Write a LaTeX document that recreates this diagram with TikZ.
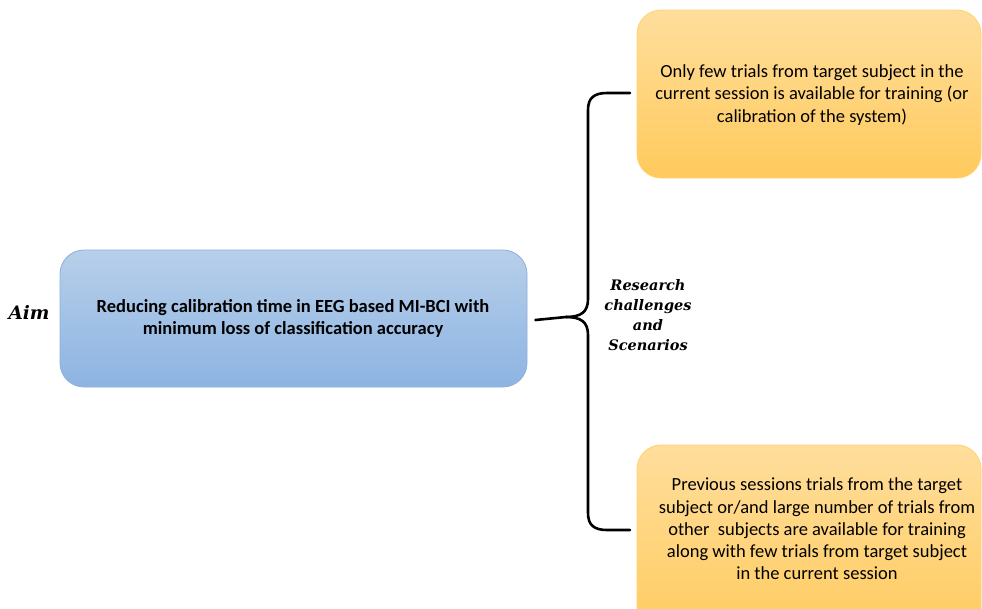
\documentclass[tikz,border=0pt]{standalone}
\usepackage{fontspec}
\setmainfont{Carlito}
\usetikzlibrary{calc}
\definecolor{aimtop}{HTML}{B7CFEA}
\definecolor{aimbot}{HTML}{8DB4E2}
\definecolor{aimedge}{HTML}{8FAEDB}
\definecolor{scntop}{HTML}{FFDE9C}
\definecolor{scnbot}{HTML}{FFCA5C}
\definecolor{scnedge}{HTML}{FFD36E}
\newfontfamily\labelfont{DejaVu Serif}
\tikzset{
  aimbox/.style={draw=aimedge, line width=0.8pt, rounded corners=24pt,
    top color=aimtop, bottom color=aimbot, inner sep=0pt},
  scnbox/.style={draw=scnedge, line width=0.8pt, rounded corners=24pt,
    top color=scntop, bottom color=scnbot, inner sep=0pt},
  boxtext/.style={align=center, inner sep=0pt, font=\fontsize{18.5}{22.3}\selectfont},
  sidelabel/.style={align=center, font=\labelfont\fontsize{14.5}{20}\selectfont\bfseries\itshape},
  bracket/.style={line width=2.6pt, line cap=round, line join=round}
}
\begin{document}
\begin{tikzpicture}[x=1pt,y=-1pt]
  \useasboundingbox (0,0) rectangle (982,608);
  \clip (0,0) rectangle (982,608);

  % main aim box
  \node[aimbox, minimum width=467pt, minimum height=137pt] (aim) at (293.5,318.5) {};
  \node[boxtext, font=\fontsize{18.5}{22}\selectfont\bfseries] (aimtext) at (293,318)
    {Reducing calibration time in EEG based MI-BCI with\\minimum loss of classification accuracy};
  \node[font=\labelfont\fontsize{18.5}{22}\selectfont\bfseries\itshape] (aimlabel) at (29,312) {Aim};

  % scenario boxes
  \node[scnbox, minimum width=344pt, minimum height=168pt] (s1) at (809,94) {};
  \node[boxtext] (s1text) at (812,95)
    {Only few trials from target subject in the\\current session is available for training (or\\calibration of the system)};
  \node[scnbox, minimum width=344pt, minimum height=200pt] (s2) at (809,545) {};
  \node[boxtext] (s2text) at (817,529)
    {Previous sessions trials from the target\\subject or/and large number of trials from\\other~ subjects are available for training\\along with few trials from target subject\\in the current session};

  % curly bracket joining the aim to both scenarios
  \coordinate (tip) at (566,317);
  \coordinate (top) at (630,93);
  \coordinate (bot) at (630,530);
  \draw[bracket] (aim.east) ++(8pt,-1.5pt) -- (tip)
    .. controls (581,317) and (588,312) .. (588,299) -- (588,110)
    .. controls (588,98) and (594,93) .. (607,93) -- (top);
  \draw[bracket] (tip)
    .. controls (581,317) and (588,322) .. (588,335) -- (588,513)
    .. controls (588,525) and (594,530) .. (607,530) -- (bot);

  \node[sidelabel] (rc) at (648,315) {Research\\challenges\\and\\Scenarios};
\end{tikzpicture}
\end{document}
